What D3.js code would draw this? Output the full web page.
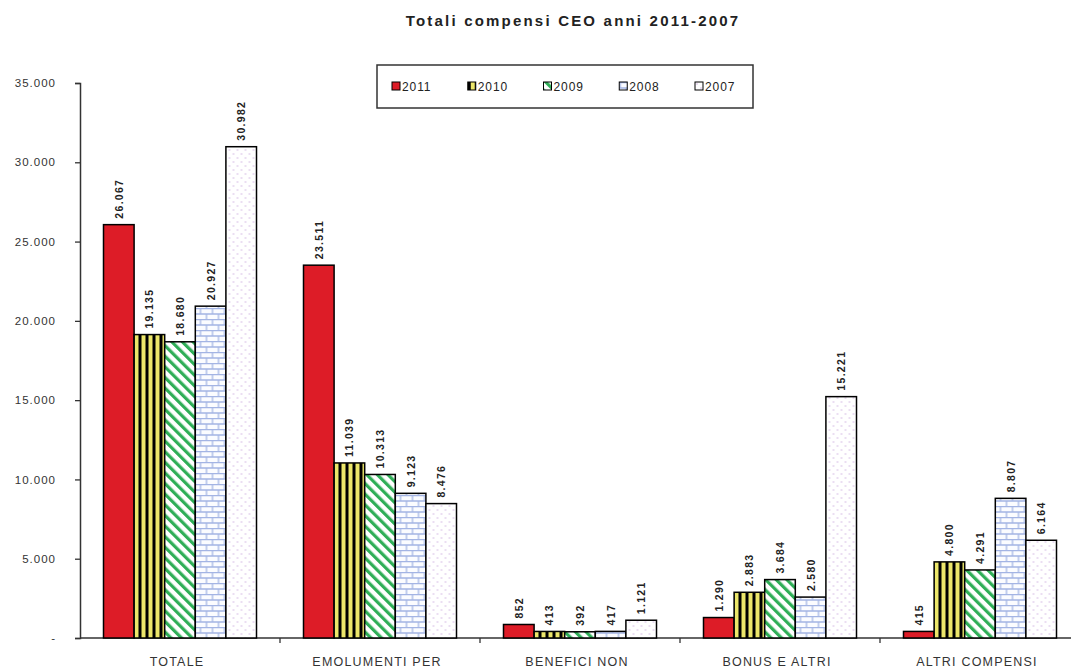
<!DOCTYPE html>
<html>
<head>
<meta charset="utf-8">
<script src="https://cdn.jsdelivr.net/npm/d3@7"></script>
<style>
  html, body { margin: 0; padding: 0; background: #fff; }
  svg { display: block; font-family: "Liberation Sans", Arial, sans-serif; }
</style>
</head>
<body>
<svg id="chart" width="1071" height="669"></svg>
<script>
// Compensation categories (x axis) and years (series)
const categories = ["TOTALE", "EMOLUMENTI PER", "BENEFICI NON", "BONUS E ALTRI", "ALTRI COMPENSI"];
const years = ["2011", "2010", "2009", "2008", "2007"];

// Values per year, in the order of the categories
const values2011 = [26067, 23511, 852, 1290, 415];
const values2010 = [19135, 11039, 413, 2883, 4800];
const values2009 = [18680, 10313, 392, 3684, 4291];
const values2008 = [20927, 9123, 417, 2580, 8807];
const values2007 = [30982, 8476, 1121, 15221, 6164];
const seriesValues = [values2011, values2010, values2009, values2008, values2007];

const yTicks = [0, 5000, 10000, 15000, 20000, 25000, 30000, 35000];

const svg = d3.select("#chart");
const defs = svg.append("defs");

// Fill patterns, one per year
// 2010: vertical black / yellow stripes
const pStripes = defs.append("pattern").attr("id", "p2010")
  .attr("patternUnits", "userSpaceOnUse").attr("width", 7).attr("height", 7);
pStripes.append("rect").attr("width", 7).attr("height", 7).attr("fill", "#ece66a");
pStripes.append("rect").attr("x", 0).attr("width", 3).attr("height", 7).attr("fill", "#000");

// 2009: green diagonal stripes on white
const pDiag = defs.append("pattern").attr("id", "p2009")
  .attr("patternUnits", "userSpaceOnUse").attr("width", 7.5).attr("height", 7.5)
  .attr("patternTransform", "rotate(-45)");
pDiag.append("rect").attr("width", 7.5).attr("height", 7.5).attr("fill", "#fff");
pDiag.append("rect").attr("x", 0).attr("width", 3.2).attr("height", 7.5).attr("fill", "#2fae57");

// 2008: light blue brick pattern
const pBrick = defs.append("pattern").attr("id", "p2008")
  .attr("patternUnits", "userSpaceOnUse").attr("width", 12).attr("height", 11);
pBrick.append("rect").attr("width", 12).attr("height", 11).attr("fill", "#fbfcff");
pBrick.append("path")
  .attr("d", "M0,0.5H12 M0,6H12 M1,0.5V6 M7,6V11")
  .attr("stroke", "#a3b4e4").attr("stroke-width", 1.3).attr("fill", "none");

// 2007: sparse lilac dots
const pDots = defs.append("pattern").attr("id", "p2007")
  .attr("patternUnits", "userSpaceOnUse").attr("width", 8).attr("height", 8);
pDots.append("rect").attr("width", 8).attr("height", 8).attr("fill", "#fff");
pDots.append("circle").attr("cx", 2).attr("cy", 2).attr("r", 0.8).attr("fill", "#d2b4e2");
pDots.append("circle").attr("cx", 6).attr("cy", 6).attr("r", 0.8).attr("fill", "#d2b4e2");

const fills = {
  "2011": "#dd1c27",
  "2010": "url(#p2010)",
  "2009": "url(#p2009)",
  "2008": "url(#p2008)",
  "2007": "url(#p2007)"
};

// Scales
const x0 = d3.scaleBand().domain(categories).range([80, 1080])
  .paddingInner(0.235).paddingOuter(0.1175);
const x1 = d3.scaleBand().domain(years).range([0, x0.bandwidth()]);
const y = d3.scaleLinear().domain([0, 35000]).range([638, 83]);

const fmt = v => v === 0 ? "-" : d3.format(",")(v).replace(/,/g, ".");

// Title
svg.append("text")
  .attr("x", 573).attr("y", 26)
  .attr("text-anchor", "middle")
  .attr("font-size", 15).attr("font-weight", "bold")
  .attr("letter-spacing", 2.2)
  .attr("fill", "#222")
  .text("Totali compensi CEO anni 2011-2007");

// Y axis
const yAxis = d3.axisLeft(y).tickValues(yTicks).tickSize(5).tickPadding(19).tickFormat(fmt);
const gy = svg.append("g").attr("transform", "translate(80,0)").call(yAxis);
gy.select(".domain").attr("stroke", "#333").attr("stroke-width", 1.5);
gy.selectAll(".tick line").attr("stroke", "#333").attr("stroke-width", 1.3);
gy.selectAll(".tick text").attr("font-size", 11.5).attr("letter-spacing", 1)
  .attr("fill", "#333").attr("font-family", "Liberation Sans, Arial, sans-serif");

// X axis: category labels centred under groups, ticks on band boundaries
const step = x0.step();
const boundaries = categories.map(c => x0(c) - (step - x0.bandwidth()) / 2);
const gx = svg.append("g");
gx.append("line")
  .attr("x1", 80).attr("x2", 1090)
  .attr("y1", y(0)).attr("y2", y(0))
  .attr("stroke", "#333").attr("stroke-width", 1.5);
gx.selectAll("line.tk").data(boundaries.slice(1)).join("line").attr("class", "tk")
  .attr("x1", d => d).attr("x2", d => d)
  .attr("y1", y(0)).attr("y2", y(0) + 5)
  .attr("stroke", "#333").attr("stroke-width", 1.3);
gx.selectAll("text").data(categories).join("text")
  .attr("x", d => x0(d) + x0.bandwidth() / 2 - 3)
  .attr("y", 666)
  .attr("text-anchor", "middle")
  .attr("font-size", 12.5).attr("letter-spacing", 1.2)
  .attr("fill", "#333")
  .text(d => d);

// Bars
const groups = svg.append("g").selectAll("g").data(categories).join("g")
  .attr("transform", d => `translate(${x0(d)},0)`);

groups.each(function(cat, ci) {
  const g = d3.select(this);
  const items = years.map((yr, si) => ({ yr, v: seriesValues[si][ci] }));
  g.selectAll("rect").data(items).join("rect")
    .attr("x", d => x1(d.yr))
    .attr("y", d => y(d.v))
    .attr("width", x1.bandwidth())
    .attr("height", d => y(0) - y(d.v))
    .attr("fill", d => fills[d.yr])
    .attr("stroke", "#000").attr("stroke-width", 1.5);
  g.selectAll("text").data(items).join("text")
    .attr("transform", d => `translate(${x1(d.yr) + x1.bandwidth() / 2 + 4},${y(d.v) - 6}) rotate(-90)`)
    .attr("font-size", 10.5).attr("font-weight", "bold")
    .attr("letter-spacing", 1.3)
    .attr("fill", "#222")
    .text(d => fmt(d.v));
});

// Legend
const legend = svg.append("g");
legend.append("rect")
  .attr("x", 377).attr("y", 65).attr("width", 376).attr("height", 43)
  .attr("fill", "#fff").attr("stroke", "#333").attr("stroke-width", 1.5);
const legendX = d3.scalePoint().domain(years).range([392, 695]);
const li = legend.selectAll("g").data(years).join("g")
  .attr("transform", d => `translate(${legendX(d)},82)`);
li.append("rect").attr("width", 8).attr("height", 8)
  .attr("fill", d => fills[d]).attr("stroke", "#000").attr("stroke-width", 1);
li.append("text").attr("x", 10).attr("y", 8.5)
  .attr("font-size", 12).attr("letter-spacing", 0.9).attr("fill", "#222")
  .text(d => d);
</script>
</body>
</html>
